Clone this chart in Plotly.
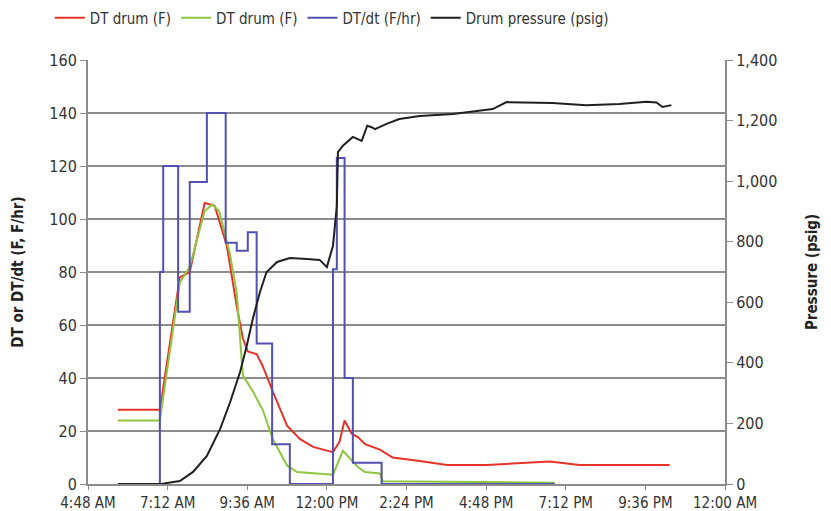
import plotly.graph_objects as go
from datetime import datetime, timedelta


def ts(hm):
    h, m = hm.split(":")
    return datetime(2020, 1, 1) + timedelta(hours=int(h), minutes=int(m))

# DT drum (F) - red series
red_time = ["05:42", "06:58", "07:34", "07:52", "08:19", "08:37", "08:59", "09:17", "09:28",
            "09:37", "09:53", "10:04", "10:22", "10:48", "11:11", "11:35", "12:11", "12:23",
            "12:32", "12:45", "12:56", "13:09", "13:36", "13:59", "14:48", "15:37", "16:49",
            "17:49", "18:43", "19:37", "22:20"]
red_val = [28, 28, 78, 80, 106, 105, 90, 67, 55,
           50, 49, 44.5, 35, 22, 17, 14, 12, 16,
           24, 19, 17.7, 15, 13, 10, 8.7, 7.2, 7.2,
           8, 8.5, 7.2, 7.2]

# DT drum (F) - green series
green_time = ["05:42", "06:58", "07:34", "07:52", "08:19", "08:33", "08:45", "09:04", "09:17",
              "09:28", "09:46", "10:04", "10:22", "10:48", "11:06", "12:11", "12:29", "12:41",
              "12:56", "13:09", "13:36", "13:41", "15:42", "18:52"]
green_val = [24, 24, 76, 82, 103, 105.5, 103, 87.5, 72,
             41, 35, 28, 17, 7, 4.5, 3.5, 12.5, 9.8,
             6.4, 4.5, 4, 1, 0.8, 0.5]

# DT/dt (F/hr) - step series
rate_time = ["06:58", "06:58", "07:04", "07:31", "07:52", "08:23", "08:57", "09:17", "09:37",
             "09:53", "10:21", "10:53", "12:11", "12:18", "12:32", "12:47", "13:39", "18:52"]
rate_val = [0, 80, 120, 65, 114, 140, 91, 88, 95,
            53, 15, 0, 81, 123, 40, 8, 0, 0]

# Drum pressure (psig)
pres_time = ["05:42", "07:00", "07:34", "07:58", "08:23", "08:47", "09:05", "09:23", "09:35",
             "09:46", "09:59", "10:11", "10:30", "10:53", "11:24", "11:47", "12:00", "12:11",
             "12:18", "12:20", "12:29", "12:47", "13:03", "13:13", "13:21", "13:27", "13:48",
             "14:11", "14:48", "15:48", "17:00", "17:25", "18:48", "19:49", "20:49", "21:38",
             "21:56", "22:07", "22:23"]
pres_val = [0, 0, 10, 40, 93, 182, 270, 370, 456,
            545, 634, 700, 733, 746, 743, 740, 716, 786,
            918, 1096, 1117, 1146, 1133, 1183, 1178, 1172, 1189,
            1205, 1215, 1222, 1238, 1261, 1258, 1251, 1255, 1262,
            1260, 1245, 1251]

tick_labels = ["4:48 AM", "7:12 AM", "9:36 AM", "12:00 PM", "2:24 PM",
               "4:48 PM", "7:12 PM", "9:36 PM", "12:00 AM"]

x0 = datetime(2020, 1, 1, 4, 48)
tick_vals = [x0 + timedelta(minutes=144 * i) for i in range(len(tick_labels))]

FONT = "DejaVu Sans Condensed, Liberation Sans Narrow, sans-serif"
TXT = "#333333"

fig = go.Figure()
fig.add_trace(go.Scatter(x=[ts(t) for t in red_time], y=red_val, mode="lines",
                         name="DT drum (F)", line=dict(color="#e63329", width=2)))
fig.add_trace(go.Scatter(x=[ts(t) for t in green_time], y=green_val, mode="lines",
                         name="DT drum (F)", line=dict(color="#8dc63f", width=2)))
fig.add_trace(go.Scatter(x=[ts(t) for t in rate_time], y=rate_val, mode="lines",
                         name="DT/dt (F/hr)", line=dict(color="#5350b4", width=2, shape="hv")))
fig.add_trace(go.Scatter(x=[ts(t) for t in pres_time], y=pres_val, mode="lines",
                         name="Drum pressure (psig)", yaxis="y2",
                         line=dict(color="#231f20", width=2)))

fig.update_layout(
    width=831, height=511,
    margin=dict(l=88, r=106, t=60, b=27, autoexpand=False),
    paper_bgcolor="white", plot_bgcolor="white",
    font=dict(family=FONT, size=15, color=TXT),
    showlegend=True,
    legend=dict(orientation="h", x=-0.06, xanchor="left", y=1.099, yanchor="middle",
                font=dict(family=FONT, size=15, color=TXT),
                itemwidth=30, tracegroupgap=0, bgcolor="rgba(0,0,0,0)"),
    xaxis=dict(type="date", range=[tick_vals[0], tick_vals[-1]], automargin=False,
               tickmode="array", tickvals=tick_vals, ticktext=tick_labels,
               showgrid=False, showline=True, linecolor="#8c8c8c", linewidth=2,
               ticks="outside", ticklen=4, tickcolor="#8c8c8c",
               tickfont=dict(family=FONT, size=15, color=TXT), zeroline=False),
    yaxis=dict(range=[0, 160], dtick=20, tick0=0, showgrid=True, gridcolor="#8c8c8c",
               gridwidth=1.5, showline=True, linecolor="#8c8c8c", linewidth=2,
               automargin=False,
               ticks="outside", ticklen=6, tickcolor="#8c8c8c", zeroline=False,
               tickfont=dict(family=FONT, size=16, color=TXT),
               title=dict(text="<b>DT or DT/dt (F, F/hr)</b>", standoff=22,
                          font=dict(family=FONT, size=15, color="#222222"))),
    yaxis2=dict(range=[0, 1400], dtick=200, tick0=0, overlaying="y", side="right",
                showgrid=False, showline=True, linecolor="#8c8c8c", linewidth=2,
                automargin=False,
                ticks="outside", ticklen=6, tickcolor="#8c8c8c", tickformat=",",
                zeroline=False,
                tickfont=dict(family=FONT, size=16, color=TXT),
                title=dict(text="<b>Pressure (psig)</b>", standoff=30,
                           font=dict(family=FONT, size=15, color="#222222"))),
)

fig.write_html("out.html")
